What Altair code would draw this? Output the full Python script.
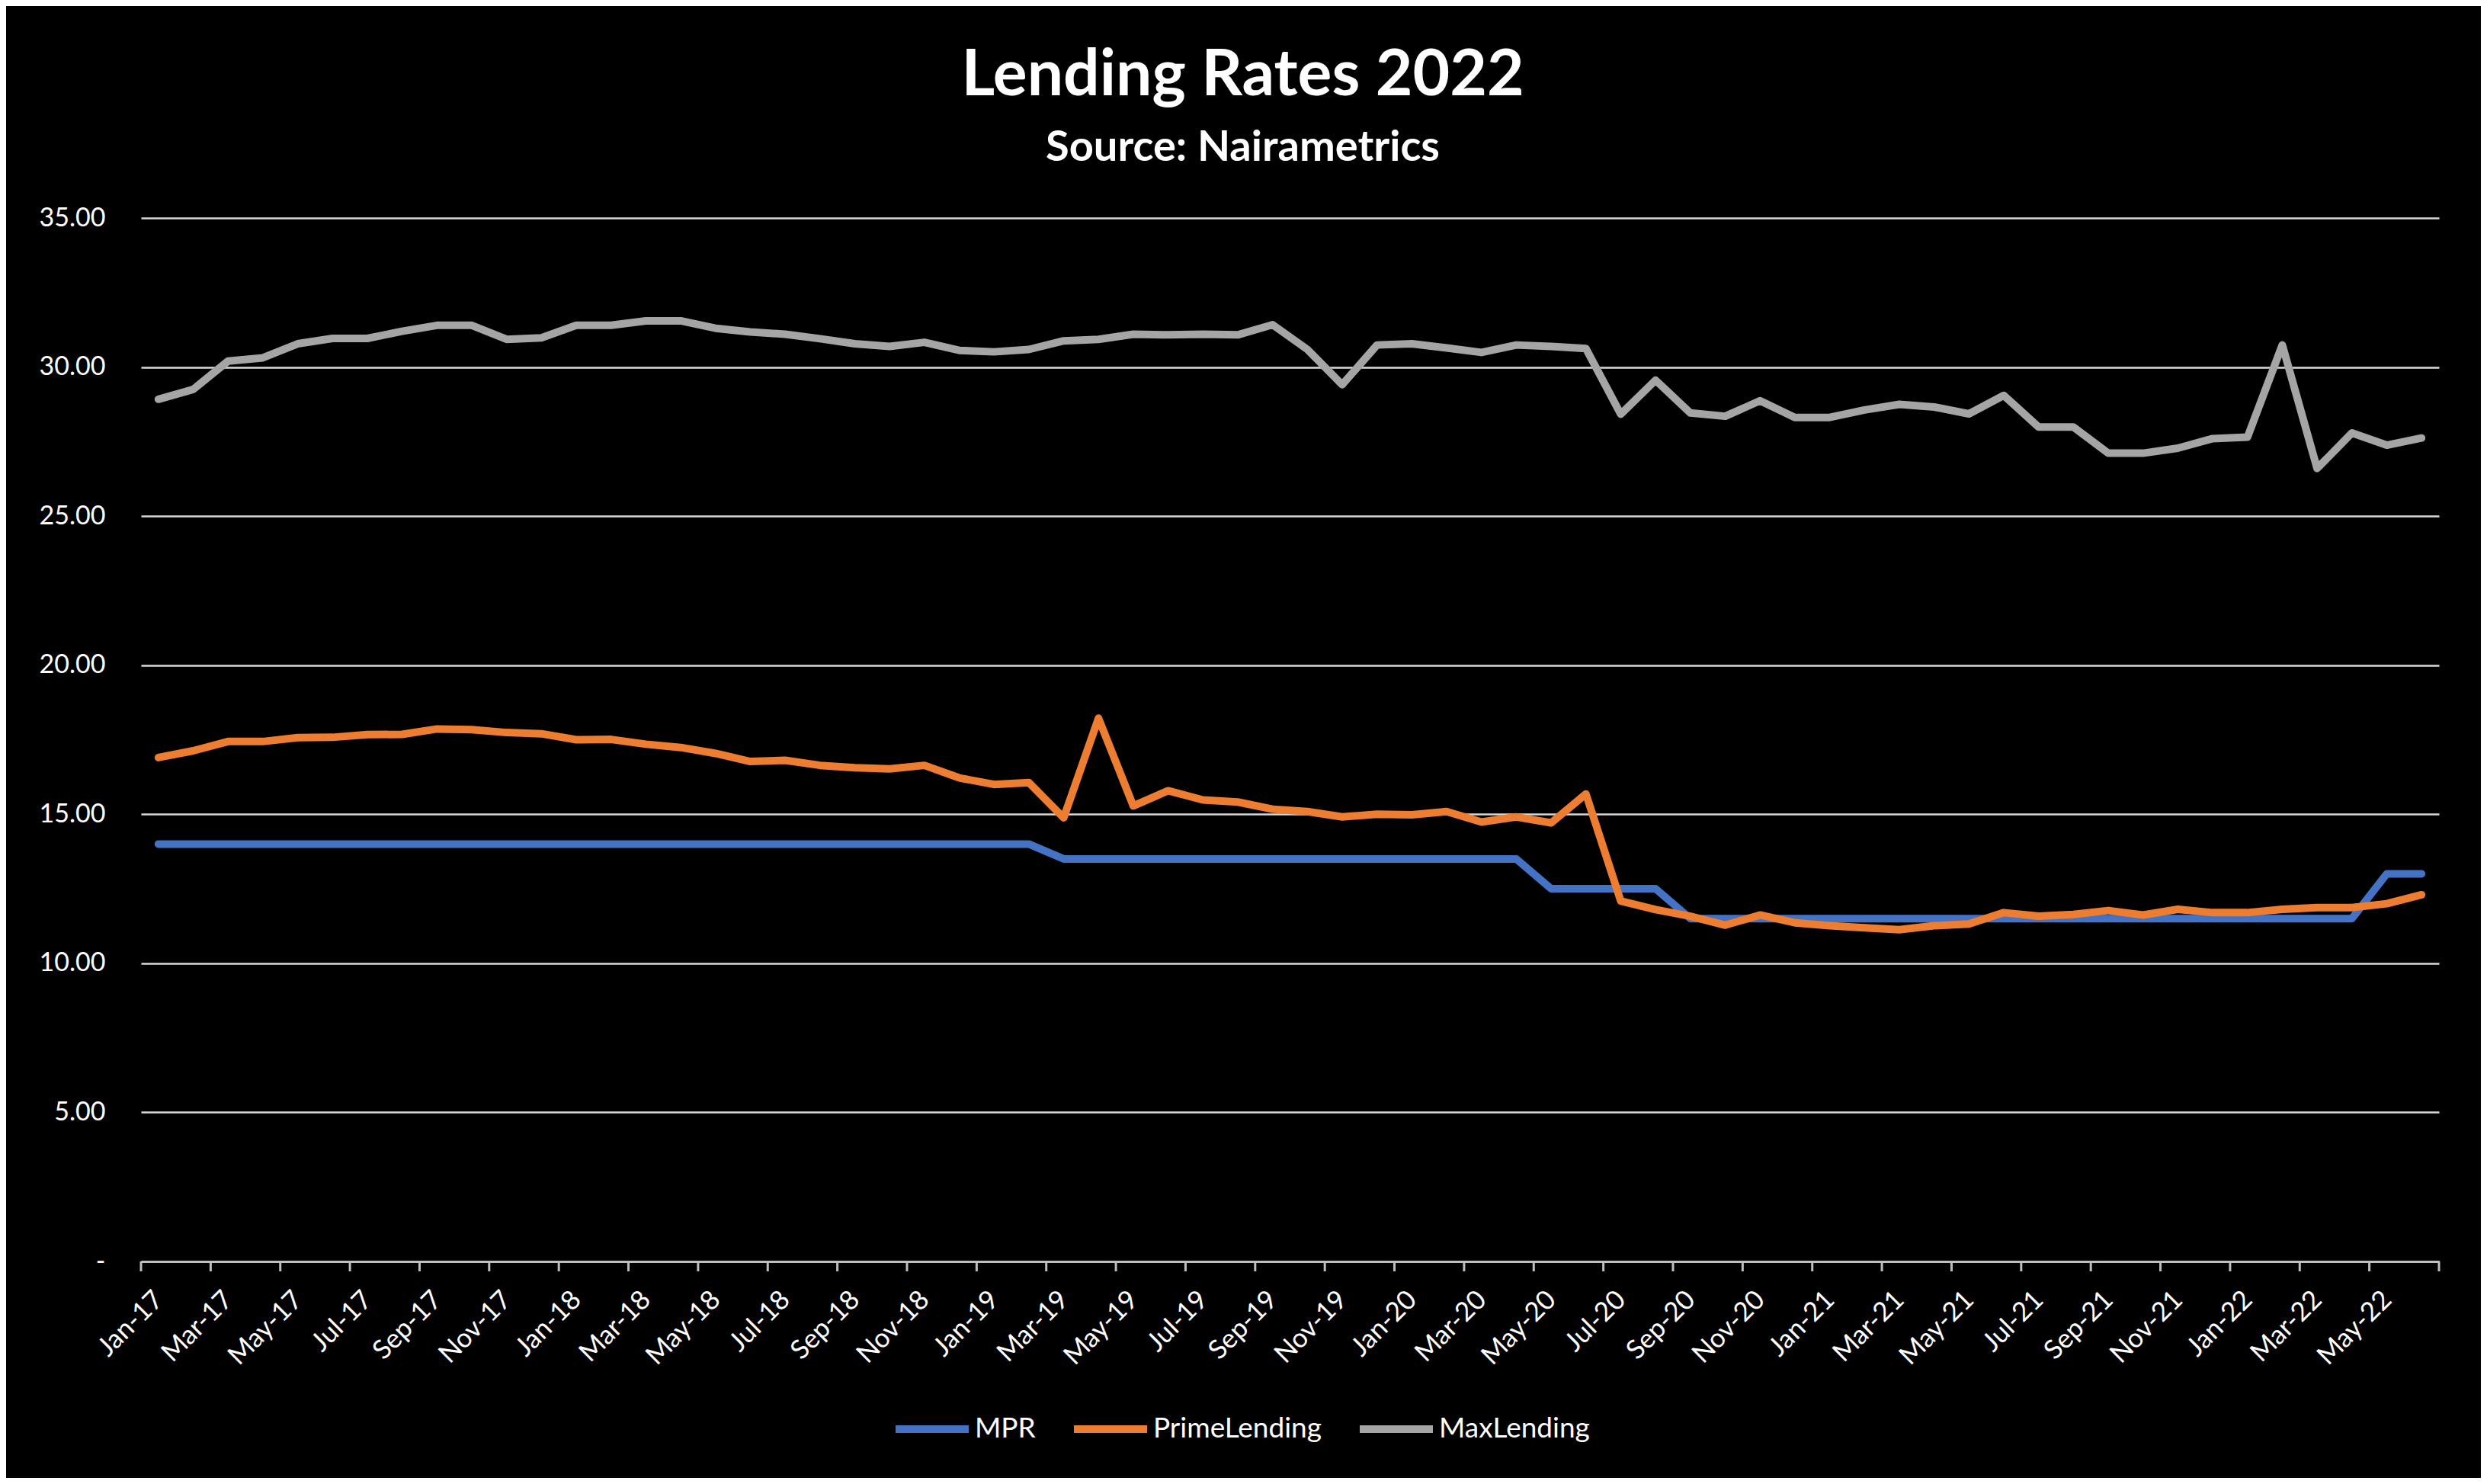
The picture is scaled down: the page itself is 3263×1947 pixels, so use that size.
import json

import altair as alt
import pandas as pd

# monthly categories, Jan-17 .. Jun-22
month_abbr = ["Jan", "Feb", "Mar", "Apr", "May", "Jun", "Jul", "Aug", "Sep", "Oct", "Nov", "Dec"]
years = ["17", "18", "19", "20", "21", "22"]
months = [f"{m}-{y}" for y in years for m in month_abbr][:66]

mpr = [
    14.0, 14.0, 14.0, 14.0, 14.0, 14.0, 14.0, 14.0, 14.0, 14.0, 14.0, 14.0,
    14.0, 14.0, 14.0, 14.0, 14.0, 14.0, 14.0, 14.0, 14.0, 14.0, 14.0, 14.0,
    14.0, 14.0, 13.5, 13.5, 13.5, 13.5, 13.5, 13.5, 13.5, 13.5, 13.5, 13.5,
    13.5, 13.5, 13.5, 13.5, 12.5, 12.5, 12.5, 12.5, 11.5, 11.5, 11.5, 11.5,
    11.5, 11.5, 11.5, 11.5, 11.5, 11.5, 11.5, 11.5, 11.5, 11.5, 11.5, 11.5,
    11.5, 11.5, 11.5, 11.5, 13.0, 13.0,
]
prime_lending = [
    16.90, 17.13, 17.44, 17.44, 17.57, 17.58, 17.67, 17.68, 17.86, 17.84, 17.74, 17.70,
    17.50, 17.51, 17.35, 17.24, 17.04, 16.77, 16.81, 16.64, 16.56, 16.52, 16.64, 16.22,
    16.00, 16.06, 14.88, 18.22, 15.28, 15.79, 15.48, 15.41, 15.17, 15.09, 14.91, 15.00,
    14.98, 15.09, 14.74, 14.91, 14.71, 15.68, 12.09, 11.80, 11.58, 11.28, 11.62, 11.36,
    11.26, 11.19, 11.13, 11.26, 11.32, 11.70, 11.58, 11.64, 11.77, 11.62, 11.81, 11.70,
    11.70, 11.81, 11.87, 11.87, 12.00, 12.30,
]
max_lending = [
    28.92, 29.25, 30.20, 30.31, 30.78, 30.96, 30.96, 31.20, 31.40, 31.40, 30.93, 30.98,
    31.40, 31.40, 31.55, 31.55, 31.30, 31.18, 31.10, 30.95, 30.78, 30.69, 30.83, 30.56,
    30.51, 30.59, 30.88, 30.93, 31.10, 31.08, 31.10, 31.08, 31.42, 30.59, 29.41, 30.74,
    30.78, 30.64, 30.49, 30.74, 30.69, 30.62, 28.42, 29.56, 28.46, 28.35, 28.87, 28.31,
    28.31, 28.56, 28.75, 28.66, 28.43, 29.05, 27.99, 27.99, 27.11, 27.11, 27.28, 27.60,
    27.65, 30.74, 26.60, 27.79, 27.38, 27.62,
]

series_names = ["MPR", "PrimeLending", "MaxLending"]
series_colors = ["#4472C4", "#ED7D31", "#A5A5A5"]
y_ticks = [0, 5, 10, 15, 20, 25, 30, 35]

rows = []
for name, values in zip(series_names, [mpr, prime_lending, max_lending]):
    for idx, (month, value) in enumerate(zip(months, values)):
        rows.append({"idx": idx, "month": month, "series": name, "rate": value})
frame = pd.DataFrame(rows)

# tick marks sit between categories, every second month
tick_frame = pd.DataFrame({"edge": [idx - 0.5 for idx in range(0, len(months) + 1, 2)]})

plot_width = 3015
plot_height = 1369
font = "Lato"

x_scale = alt.Scale(domain=[-0.5, len(months) - 0.5], nice=False, zero=False)
x_axis = alt.Axis(
    values=list(range(0, len(months), 2)),
    labelExpr=f"{json.dumps(months)}[datum.value]",
    labelAngle=-45,
    labelAlign="right",
    labelBaseline="middle",
    labelFont=font,
    labelFontSize=35,
    labelColor="white",
    labelPadding=44,
    labelOverlap=False,
    labelBound=False,
    labelFlush=False,
    ticks=False,
    tickSize=0,
    domain=True,
    domainColor="#bfbfbf",
    domainWidth=3,
    grid=False,
    title=None,
)
y_axis = alt.Axis(
    values=y_ticks,
    labelExpr="datum.value == 0 ? '-\u00a0\u00a0\u00a0' : format(datum.value, '.2f')",
    labelFont=font,
    labelFontSize=34,
    labelColor="white",
    labelPadding=47,
    ticks=False,
    tickSize=0,
    domain=False,
    grid=True,
    gridColor="#d9d9d9",
    gridWidth=2.5,
    title=None,
)

lines = (
    alt.Chart(frame)
    .mark_line(strokeWidth=10, strokeCap="round", strokeJoin="round")
    .encode(
        x=alt.X("idx:Q", scale=x_scale, axis=x_axis),
        y=alt.Y("rate:Q", scale=alt.Scale(domain=[0, 35], nice=False), axis=y_axis),
        color=alt.Color(
            "series:N",
            scale=alt.Scale(domain=series_names, range=series_colors),
            legend=alt.Legend(
                title=None,
                orient="none",
                direction="horizontal",
                legendX=985,
                legendY=1536,
                symbolType="stroke",
                symbolSize=9216,
                symbolStrokeWidth=10,
                labelFont=font,
                labelFontSize=37,
                labelColor="white",
                labelLimit=0,
                labelOffset=3,
                columnPadding=30,
            ),
        ),
    )
)

ticks = (
    alt.Chart(tick_frame)
    .mark_rule(color="#bfbfbf", strokeWidth=3)
    .encode(
        x=alt.X("edge:Q", scale=x_scale, axis=x_axis),
        y=alt.value(plot_height),
        y2=alt.value(plot_height + 13),
    )
)

chart = (
    alt.layer(lines, ticks)
    .properties(
        width=plot_width,
        height=plot_height,
        autosize=alt.AutoSizeParams(type="none"),
        padding={"left": 177, "top": 278, "right": 55, "bottom": 284},
        title=alt.TitleParams(
            text="Lending Rates 2022",
            subtitle="Source: Nairametrics",
            font=font,
            subtitleFont=font,
            fontSize=84,
            subtitleFontSize=56,
            fontWeight="bold",
            subtitleFontWeight="bold",
            color="white",
            subtitleColor="white",
            anchor="middle",
            dx=-62,
            offset=46,
            subtitlePadding=24,
        ),
    )
    .configure(background="black")
    .configure_view(stroke=None)
)

chart.save("out.html", embed_options={"renderer": "svg", "actions": False})
